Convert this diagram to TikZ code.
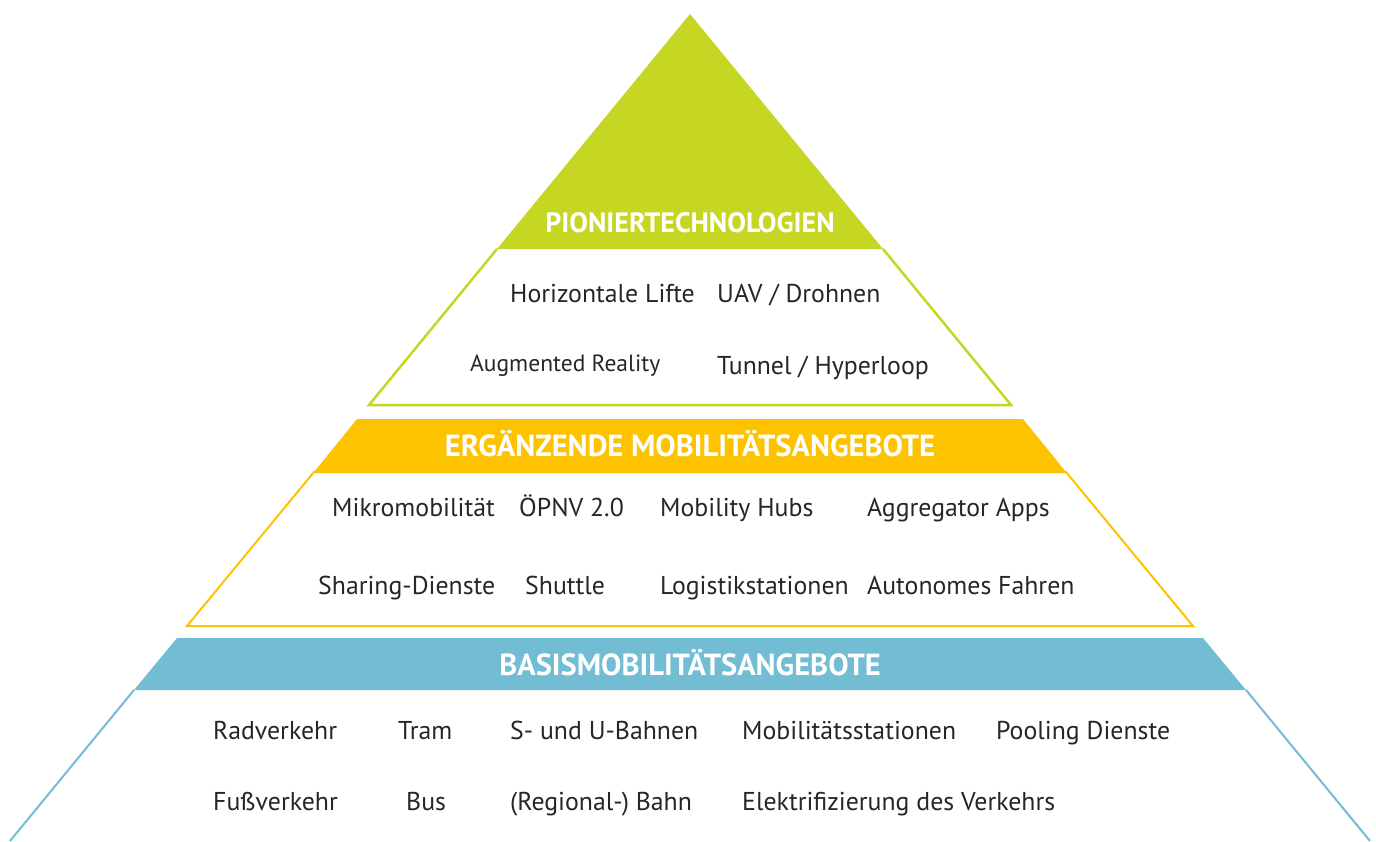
\documentclass[tikz,border=0pt]{standalone}
\usepackage{fontspec}
\setsansfont{PT Sans}
\tikzset{every picture/.style={/utils/exec={\sffamily}}}
\definecolor{pioniergruen}{RGB}{197,214,35}
\definecolor{ergaenzgelb}{RGB}{253,194,0}
\definecolor{basisblau}{RGB}{114,188,212}

\begin{document}
\begin{tikzpicture}[x=1pt, y=-1pt,
		eintrag/.style={anchor=base west, inner sep=0pt, font=\fontsize{25.8}{30}\selectfont, text=black!85},
		kopf/.style={anchor=base, inner sep=0pt, font=\fontsize{30.5}{34}\selectfont\bfseries, text=white}]
		\useasboundingbox (0, 0) rectangle (1376, 841);

		% Pioniertechnologien
		\fill[pioniergruen] (690, 14) -- (883, 249) -- (497, 249) -- cycle;
		\draw[pioniergruen, line width=2.5] (883, 249) -- (1011, 405) -- (369, 405) -- (497, 249);
		\node[kopf, font=\fontsize{28}{32}\selectfont\bfseries] (pionier) at (690, 232) {PIONIERTECHNOLOGIEN};

		\node[eintrag] (lifte) at (510, 302) {Horizontale Lifte};
		\node[eintrag] (drohnen) at (717, 302) {UAV / Drohnen};
		\node[eintrag, font=\fontsize{23.5}{27}\selectfont] (ar) at (470, 371) {Augmented Reality};
		\node[eintrag] (hyperloop) at (717, 374) {Tunnel / Hyperloop};

		% Ergaenzende Mobilitaetsangebote
		\fill[ergaenzgelb] (357, 419) -- (1023, 419) -- (1066, 472) -- (314, 472) -- cycle;
		\draw[ergaenzgelb, line width=2] (314, 472) -- (1066, 472) -- (1193, 626) -- (187, 626) -- cycle;
		\node[kopf] (ergaenz) at (690, 456) {ERGÄNZENDE MOBILITÄTSANGEBOTE};

		\node[eintrag] (mikro) at (332, 516) {Mikromobilität};
		\node[eintrag] (oepnv) at (519, 516) {ÖPNV 2.0};
		\node[eintrag] (hubs) at (660, 516) {Mobility Hubs};
		\node[eintrag] (apps) at (867, 516) {Aggregator Apps};
		\node[eintrag] (sharing) at (318, 594) {Sharing-Dienste};
		\node[eintrag] (shuttle) at (525, 594) {Shuttle};
		\node[eintrag] (logistik) at (660, 594) {Logistikstationen};
		\node[eintrag] (autonom) at (867, 594) {Autonomes Fahren};

		% Basismobilitaetsangebote
		\fill[basisblau] (177, 638) -- (1203, 638) -- (1246, 690) -- (134, 690) -- cycle;
		\draw[basisblau, line width=2] (134, 690) -- (10, 841);
		\draw[basisblau, line width=2] (1246, 690) -- (1370, 841);
		\node[kopf] (basis) at (690, 675) {BASISMOBILITÄTSANGEBOTE};

		\node[eintrag] (rad) at (213, 739) {Radverkehr};
		\node[eintrag] (tram) at (398, 739) {Tram};
		\node[eintrag] (sbahn) at (510, 739) {S- und U-Bahnen};
		\node[eintrag] (stationen) at (742, 739) {Mobilitätsstationen};
		\node[eintrag] (pooling) at (996, 739) {Pooling Dienste};
		\node[eintrag] (fuss) at (213, 810) {Fußverkehr};
		\node[eintrag] (bus) at (406, 810) {Bus};
		\node[eintrag] (regional) at (510, 810) {(Regional-) Bahn};
		\node[eintrag] (elektro) at (742, 810) {Elektrifizierung des Verkehrs};
	\end{tikzpicture}
\end{document}
